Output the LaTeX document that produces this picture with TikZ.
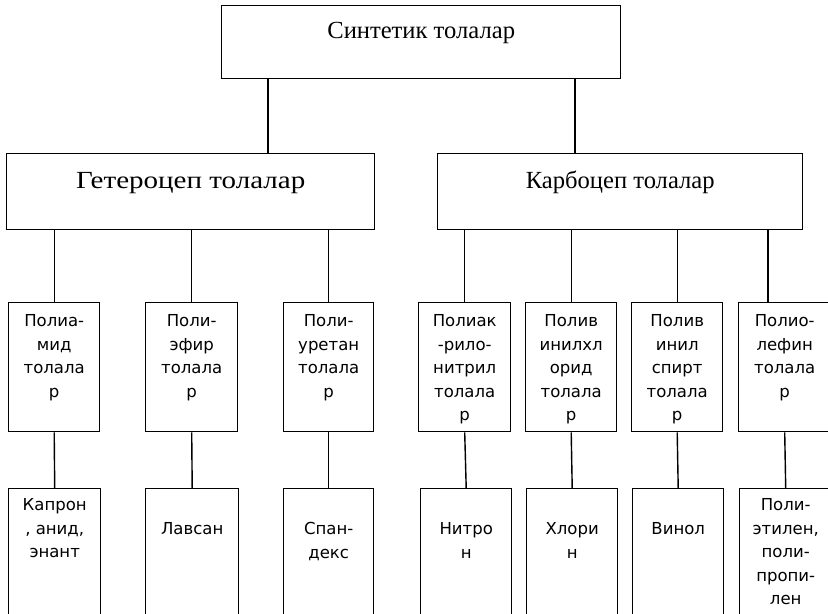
\documentclass[tikz,border=0pt]{standalone}
\usepackage{fontspec}
\setmainfont{Liberation Serif}
\newfontfamily\sanscyr{DejaVu Sans}
\usetikzlibrary{positioning}

% one pixel of the reference
\newlength\pxu
\setlength\pxu{0.02cm}
% width, height, first baseline, text
\newcommand{\cellbox}[4]{\parbox[t][#2\pxu][t]{#1\pxu}{\centering\rule{0pt}{#3\pxu}#4\par}}

\begin{document}
\begin{tikzpicture}[
    x=0.02cm, y=-0.02cm,
    % ---- boxes ----
    box/.style={draw, line width=0.8pt, inner sep=0pt, anchor=north west},
    head/.style={box, font=\fontsize{14}{17}\selectfont},
    leaf/.style={box, font=\sanscyr\fontsize{9.4}{13.4}\selectfont},
    % ---- lines ----
    link/.style={line width=0.8pt}
]
\useasboundingbox (0,0) rectangle (828,614);
\clip (0,0) rectangle (828,614);

% ---------- top ----------
\node[head] (syn) at (221,5) {\cellbox{399}{73}{33}{Синтетик толалар}};

% ---------- level 2 ----------
\node[head] (het) at (6,153) {\cellbox{368}{76}{35}{\addfontfeature{FakeStretch=1.18}Гетероцеп толалар}};
\node[head] (karb) at (437,153) {\cellbox{365}{76}{35}{Карбоцеп толалар}};

% ---------- level 3 ----------
\node[leaf] (pamid) at (8,302) {\cellbox{91}{129}{24}{Полиа-\\мид\\толала\\р}};
\node[leaf] (pefir) at (145,302) {\cellbox{92}{129}{24}{Поли-\\эфир\\толала\\р}};
\node[leaf] (puret) at (283,302) {\cellbox{90}{129}{24}{Поли-\\уретан\\толала\\р}};
\node[leaf] (pakr) at (418,302) {\cellbox{92}{129}{24}{Полиак\\-рило-\\нитрил\\толала\\р}};
\node[leaf] (pvhl) at (525,302) {\cellbox{91}{129}{24}{Полив\\инилхл\\орид\\толала\\р}};
\node[leaf] (pvsp) at (631,302) {\cellbox{91}{129}{24}{Полив\\инил\\спирт\\толала\\р}};
\node[leaf] (polef) at (738,302) {\cellbox{92}{129}{24}{Полио-\\лефин\\толала\\р}};

% ---------- level 4 ----------
\node[leaf] (kapron) at (8,488) {\cellbox{92}{170}{22}{Капрон\\, анид,\\энант}};
\node[leaf] (lavsan) at (145,488) {\cellbox{93}{170}{46}{Лавсан}};
\node[leaf] (spandex) at (283,488) {\cellbox{90}{170}{46}{Спан-\\декс}};
\node[leaf] (nitron) at (420,488) {\cellbox{91}{170}{46}{Нитро\\н}};
\node[leaf] (hlorin) at (526,488) {\cellbox{91}{170}{46}{Хлори\\н}};
\node[leaf] (vinol) at (632,488) {\cellbox{91}{170}{46}{Винол}};
\node[leaf] (poliet) at (739,488) {\cellbox{92}{170}{22}{Поли-\\этилен,\\поли-\\пропи-\\лен}};

% ============================================================
%  LINES
% ============================================================

% top -- level 2
\draw[link] (268,0 |- syn.south) -- (268,0 |- het.north);
\draw[link] (575,0 |- syn.south) -- (575,0 |- karb.north);

% level 2 -- level 3
\draw[link] (pamid.north) -- (pamid.north |- het.south);
\draw[link] (pefir.north) -- (pefir.north |- het.south);
\draw[link] (puret.north) -- (puret.north |- het.south);
\draw[link] (pakr.north) -- (pakr.north |- karb.south);
\draw[link] (pvhl.north) -- (pvhl.north |- karb.south);
\draw[link] (pvsp.north) -- (pvsp.north |- karb.south);
\draw[link] (768,0 |- polef.north) -- (768,0 |- karb.south);

% level 3 -- level 4
\draw[link] (pamid.south) -- (kapron.north);
\draw[link] (pefir.south) -- (lavsan.north);
\draw[link] (puret.south) -- (spandex.north);
\draw[link] (pakr.south) -- (nitron.north);
\draw[link] (pvhl.south) -- (hlorin.north);
\draw[link] (pvsp.south) -- (vinol.north);
\draw[link] (polef.south) -- (poliet.north);

\end{tikzpicture}
\end{document}
